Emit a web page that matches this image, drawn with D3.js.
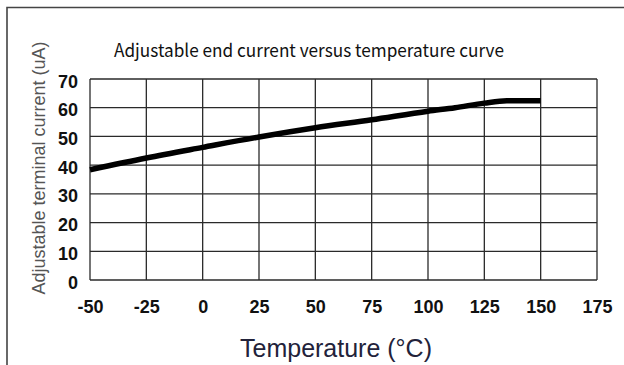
<!DOCTYPE html>
<html lang="en">
<head>
    <meta charset="UTF-8">
    <title>Adjustable end current versus temperature curve</title>
    <script src="https://d3js.org/d3.v7.min.js"></script>
    <style>
        body { margin: 0; background: #fff; }
        .grid line { stroke: #2a2a2a; stroke-width: 1.3px; }
        .tick-label {
            font-family: "Liberation Sans Narrow", "Arial Narrow", "Liberation Sans", sans-serif;
            font-weight: bold;
            font-size: 18px;
            fill: #111;
        }
        .curve { fill: none; stroke: #000; stroke-width: 5.5px; stroke-linejoin: round; }
    </style>
</head>
<body>
    <svg width="624" height="365"></svg>

    <script>
        // values
        const temps = [-50, -25, 0, 25, 50, 75, 100, 112, 125, 135, 150];
        const current = [38.4, 42.5, 46.2, 49.8, 53, 55.8, 58.8, 60, 61.6, 62.4, 62.4];
        const xTicks = [-50, -25, 0, 25, 50, 75, 100, 125, 150, 175];
        const yTicks = [0, 10, 20, 30, 40, 50, 60, 70];

        const svg = d3.select("svg");

        // outer frame (only top and left edges are in view)
        svg.append("path")
            .attr("d", "M7,365 V7.5 H624")
            .attr("fill", "none")
            .attr("stroke", "#444")
            .attr("stroke-width", 1.6);

        const x = d3.scaleLinear().domain([-50, 175]).range([90, 597]);
        const y = d3.scaleLinear().domain([0, 70]).range([280, 79]);

        // grid
        const grid = svg.append("g").attr("class", "grid");
        grid.selectAll(".vx")
            .data(xTicks)
            .enter()
            .append("line")
            .attr("x1", d => x(d)).attr("x2", d => x(d))
            .attr("y1", y(0)).attr("y2", y(70));
        grid.selectAll(".hy")
            .data(yTicks)
            .enter()
            .append("line")
            .attr("x1", x(-50)).attr("x2", x(175))
            .attr("y1", d => y(d)).attr("y2", d => y(d));

        // tick labels
        svg.append("g")
            .attr("transform", "translate(0,280)")
            .call(d3.axisBottom(x).tickValues(xTicks).tickSize(0).tickPadding(20).tickFormat(d => d))
            .call(g => g.select(".domain").remove())
            .selectAll("text")
            .attr("class", "tick-label")
            .attr("fill", "#111");

        svg.append("g")
            .attr("transform", "translate(90,0)")
            .call(d3.axisLeft(y).tickValues(yTicks).tickSize(0).tickPadding(12))
            .call(g => g.select(".domain").remove())
            .selectAll("text")
            .attr("class", "tick-label")
            .attr("fill", "#111")
            .attr("dy", "0.45em");

        // curve
        const pts = temps.map((t, i) => [t, current[i]]);
        svg.append("path")
            .datum(pts)
            .attr("class", "curve")
            .attr("d", d3.line()
                .x(d => x(d[0]))
                .y(d => y(d[1]))
                .curve(d3.curveMonotoneX));

        // titles
        svg.append("text")
            .attr("x", 114)
            .attr("y", 57)
            .attr("textLength", 390)
            .attr("lengthAdjust", "spacingAndGlyphs")
            .style("font-family", "'Noto Sans CJK KR', 'Noto Sans', sans-serif")
            .style("font-size", "18px")
            .style("fill", "#111")
            .text("Adjustable end current versus temperature curve");

        svg.append("text")
            .attr("x", 336)
            .attr("y", 357)
            .attr("text-anchor", "middle")
            .style("font-family", "'Liberation Sans', Arial, sans-serif")
            .style("font-size", "25px")
            .style("fill", "#22223a")
            .text("Temperature (°C)");

        svg.append("text")
            .attr("transform", "translate(45,168) rotate(-90)")
            .attr("text-anchor", "middle")
            .style("font-family", "'Liberation Sans', Arial, sans-serif")
            .style("font-size", "18px")
            .style("fill", "#555")
            .text("Adjustable terminal current (uA)");
    </script>
</body>
</html>
